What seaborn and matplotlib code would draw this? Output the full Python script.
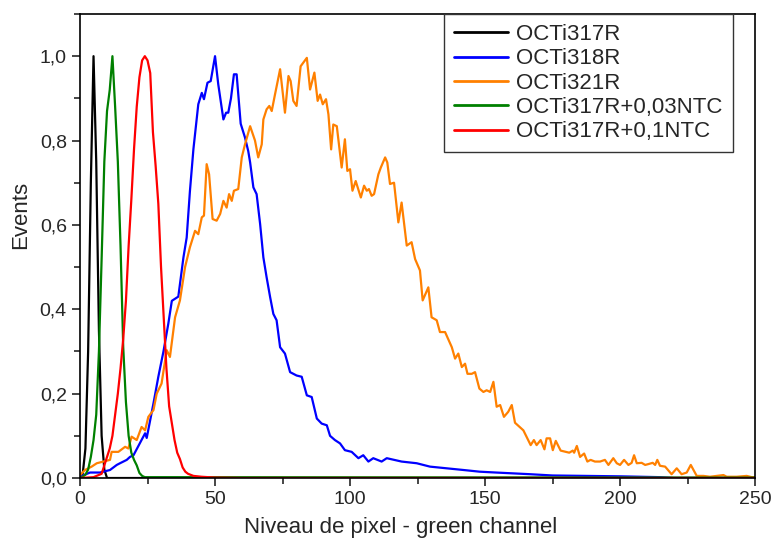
import pandas as pd
import numpy as np
import matplotlib
matplotlib.use('Agg')
import matplotlib.pyplot as plt
import seaborn as sns
from matplotlib.ticker import FuncFormatter, MultipleLocator

# --- data (pixel level vs normalized events) ---
black_x = [0, 1, 2, 3, 4, 5, 6, 7, 8, 9, 10, 250]
black_y = [0, 0.01, 0.07, 0.3, 0.7, 1.0, 0.75, 0.35, 0.1, 0.02, 0, 0]

green_x = [0, 1, 2, 3, 4, 5, 6, 7, 8, 9, 10, 11, 12, 13, 14, 15, 16, 17, 18,
           19, 20, 21, 22, 23, 24, 26, 30, 250]
green_y = [0, 0.003, 0.008, 0.02, 0.05, 0.09, 0.15, 0.3, 0.52, 0.75, 0.87, 0.92,
           1.0, 0.88, 0.75, 0.55, 0.31, 0.18, 0.1, 0.06, 0.043, 0.03, 0.012,
           0.005, 0.002, 0.002, 0.002, 0.001]

red_x = [0, 5, 8, 9, 10, 11, 12, 13, 14, 15, 16, 17, 18, 19, 20, 21, 22, 23, 24,
         25, 26, 27, 28, 29, 30, 31, 32, 33, 34, 35, 36, 37, 38, 39, 40, 42, 45,
         50, 60, 250]
red_y = [0, 0.002, 0.01, 0.03, 0.05, 0.07, 0.1, 0.15, 0.2, 0.26, 0.33, 0.42,
         0.55, 0.66, 0.78, 0.88, 0.95, 0.99, 1.0, 0.99, 0.96, 0.82, 0.74, 0.65,
         0.5, 0.38, 0.26, 0.17, 0.13, 0.09, 0.06, 0.045, 0.025, 0.015, 0.01,
         0.005, 0.003, 0.001, 0, 0]

blue_x = [0, 3.7, 7.4, 11.1, 13.6, 14.8, 17.3, 18.5, 19.8, 22.2, 24.1, 24.7,
          27.2, 29, 30.9, 32.7, 34, 36.4, 38.3, 39.5, 40.7, 42, 43.8, 45.1, 45.9,
          47.2, 48.4, 50, 51.2, 53.1, 54.1, 54.9, 55.9, 57, 58, 59.5, 61.1, 62.3,
          63, 64.2, 65.4, 66.7, 67.9, 69.1, 70.4, 71.6, 72.8, 74.1, 75.9, 77.8,
          80.2, 82.1, 84, 85.8, 87.7, 89.5, 91.4, 92.6, 94.4, 96.3, 98.1, 100.6,
          103.1, 104.9, 106.8, 108.6, 111.7, 113.6, 119.1, 124.7, 129.6, 135.8,
          142, 148, 154, 160.4, 166.7, 175, 200, 215, 220, 250]
blue_y = [0.003, 0.013, 0.013, 0.019, 0.031, 0.035, 0.043, 0.05, 0.054, 0.083,
          0.106, 0.095, 0.177, 0.24, 0.30, 0.366, 0.42, 0.43, 0.523, 0.57, 0.68,
          0.78, 0.886, 0.913, 0.898, 0.937, 0.941, 1.0, 0.933, 0.85, 0.866,
          0.866, 0.90, 0.957, 0.957, 0.84, 0.807, 0.775, 0.748, 0.689, 0.673,
          0.602, 0.523, 0.476, 0.429, 0.389, 0.374, 0.31, 0.295, 0.251, 0.243,
          0.24, 0.196, 0.192, 0.141, 0.129, 0.125, 0.10, 0.09, 0.082, 0.066,
          0.062, 0.047, 0.054, 0.039, 0.047, 0.039, 0.047, 0.039, 0.035, 0.027,
          0.023, 0.019, 0.015, 0.013, 0.011, 0.009, 0.006, 0.004, 0.002, 0.0, 0.0]

orange_x = [0, 1.85, 4.3, 6.2, 8.6, 11.1, 11.7, 14.2, 16.7, 17.9, 19.1, 21, 22.8,
            24.1, 25.3, 27.2, 28.4, 30.2, 32.1, 33.3, 35.2, 37, 38.9, 40.7, 42.6,
            43.8, 45.1, 45.9, 46.9, 47.8, 49.1, 50.6, 51.9, 53.1, 54.3, 55.2,
            56.2, 57, 58.6, 59.9, 61.1, 63, 64.8, 66, 67.3, 67.9, 69.1, 70.1, 71,
            72.2, 74.1, 75.9, 77.2, 78, 79, 80.2, 81.7, 84, 85.2, 86.8, 88, 88.9,
            89.9, 91.1, 92, 93, 93.8, 95.1, 96.9, 98.1, 99, 100, 100.9, 102.1,
            104, 105.2, 106.2, 107, 108, 108.9, 110.5, 111.4, 113, 113.8, 114.8,
            116.3, 117.9, 119.1, 121, 122.8, 124.1, 125.9, 126.9, 129, 130.2,
            132.1, 133.3, 135.2, 137.7, 138.9, 140.1, 141.4, 142.6, 143.5, 145.1,
            146.3, 147.9, 149.4, 150.6, 151.9, 153.1, 154.3, 155.6, 157, 158.6,
            159.9, 161.1, 164.2, 166.9, 168.1, 169.1, 170.6, 172, 172.8, 174.1,
            175.1, 176.2, 178, 180, 181.2, 182.5, 183, 184, 185.2, 186.7, 187.9,
            189.1, 190.7, 192.6, 194.4, 195.7, 197.5, 198.8, 200, 201.5, 203.1,
            204.3, 205.2, 206.2, 208, 209.3, 210.5, 212.1, 213, 213.8, 214.8,
            216.7, 219.1, 221, 222.8, 224.7, 226.2, 228.4, 230.9, 233.3, 238.3,
            239.5, 243.2, 246.9, 248.8, 250]
orange_y = [0.007, 0.019, 0.027, 0.035, 0.039, 0.043, 0.062, 0.062, 0.074, 0.07,
            0.098, 0.09, 0.121, 0.113, 0.145, 0.161, 0.2, 0.224, 0.303, 0.287,
            0.381, 0.421, 0.5, 0.547, 0.586, 0.578, 0.618, 0.622, 0.744, 0.72,
            0.614, 0.61, 0.626, 0.657, 0.641, 0.673, 0.657, 0.681, 0.685, 0.76,
            0.791, 0.834, 0.80, 0.76, 0.791, 0.85, 0.874, 0.882, 0.87, 0.909,
            0.969, 0.866, 0.953, 0.941, 0.894, 0.882, 0.976, 0.996, 0.921, 0.961,
            0.894, 0.909, 0.886, 0.898, 0.862, 0.779, 0.838, 0.834, 0.736, 0.803,
            0.728, 0.732, 0.681, 0.704, 0.665, 0.693, 0.681, 0.685, 0.669, 0.673,
            0.72, 0.736, 0.76, 0.748, 0.697, 0.70, 0.606, 0.653, 0.551, 0.559,
            0.519, 0.492, 0.421, 0.452, 0.381, 0.374, 0.346, 0.346, 0.31, 0.283,
            0.295, 0.263, 0.271, 0.247, 0.247, 0.251, 0.212, 0.204, 0.208, 0.204,
            0.228, 0.169, 0.173, 0.145, 0.157, 0.173, 0.131, 0.113, 0.078, 0.09,
            0.078, 0.09, 0.068, 0.094, 0.094, 0.066, 0.088, 0.065, 0.062, 0.06,
            0.065, 0.06, 0.076, 0.05, 0.058, 0.039, 0.043, 0.039, 0.039, 0.043,
            0.031, 0.047, 0.035, 0.031, 0.043, 0.031, 0.036, 0.054, 0.035, 0.036,
            0.031, 0.033, 0.036, 0.031, 0.043, 0.029, 0.027, 0.009, 0.023, 0.009,
            0.013, 0.031, 0.005, 0.005, 0.003, 0.007, 0.003, 0.003, 0.005, 0.002,
            0.002]

labels = ['OCTi317R', 'OCTi318R', 'OCTi321R', 'OCTi317R+0,03NTC', 'OCTi317R+0,1NTC']
colors = ['black', '#0000ff', '#ff8000', '#008000', '#ff0000']

series = [(black_x, black_y), (blue_x, blue_y), (orange_x, orange_y),
          (green_x, green_y), (red_x, red_y)]
frames = []
for lab, (xs, ys) in zip(labels, series):
    frames.append(pd.DataFrame({'pixel': xs, 'events': ys, 'sample': lab}))
df = pd.concat(frames, ignore_index=True)

sns.set_style('ticks')
plt.rcParams['font.family'] = ['Liberation Sans', 'DejaVu Sans']

fig = plt.figure(figsize=(7.71, 5.38), dpi=100)
ax = fig.add_axes([0.1038, 0.1115, 0.8755, 0.8625])

sns.lineplot(data=df, x='pixel', y='events', hue='sample', hue_order=labels,
             palette=dict(zip(labels, colors)), estimator=None, sort=False,
             linewidth=1.6, ax=ax)

ax.set_xlim(0, 250)
ax.set_ylim(0, 1.1)
ax.xaxis.set_major_locator(MultipleLocator(50))
ax.xaxis.set_minor_locator(MultipleLocator(25))
ax.yaxis.set_major_locator(MultipleLocator(0.2))
ax.yaxis.set_minor_locator(MultipleLocator(0.1))
ax.yaxis.set_major_formatter(FuncFormatter(lambda v, p: f'{v:.1f}'.replace('.', ',')))
ax.tick_params(which='major', direction='out', length=6, width=1.2, labelsize=14,
               top=False, right=False)
ax.tick_params(which='minor', direction='out', length=4, width=1.2,
               top=False, right=False)
for sp in ax.spines.values():
    sp.set_visible(True)
    sp.set_linewidth(1.2)
    sp.set_color('black')

ax.set_xlabel('Niveau de pixel - green channel', fontsize=16)
ax.set_ylabel('Events', fontsize=16)
# the labels sit a little off-centre in the original
ax.xaxis.set_label_coords(0.4756, -0.084)
ax.yaxis.set_label_coords(-0.072, 0.568)

handles, labs = ax.get_legend_handles_labels()
leg = ax.legend(handles, labs, loc='upper right', bbox_to_anchor=(0.967, 1.0),
                borderaxespad=0, fontsize=16, frameon=True, fancybox=False,
                framealpha=1, edgecolor='#333333', handlelength=2.4,
                labelspacing=0.15, handletextpad=0.4, borderpad=0.45)
leg.get_frame().set_linewidth(1.0)
for line in leg.get_lines():
    line.set_linewidth(2)

fig.savefig('out.png', dpi=100)
